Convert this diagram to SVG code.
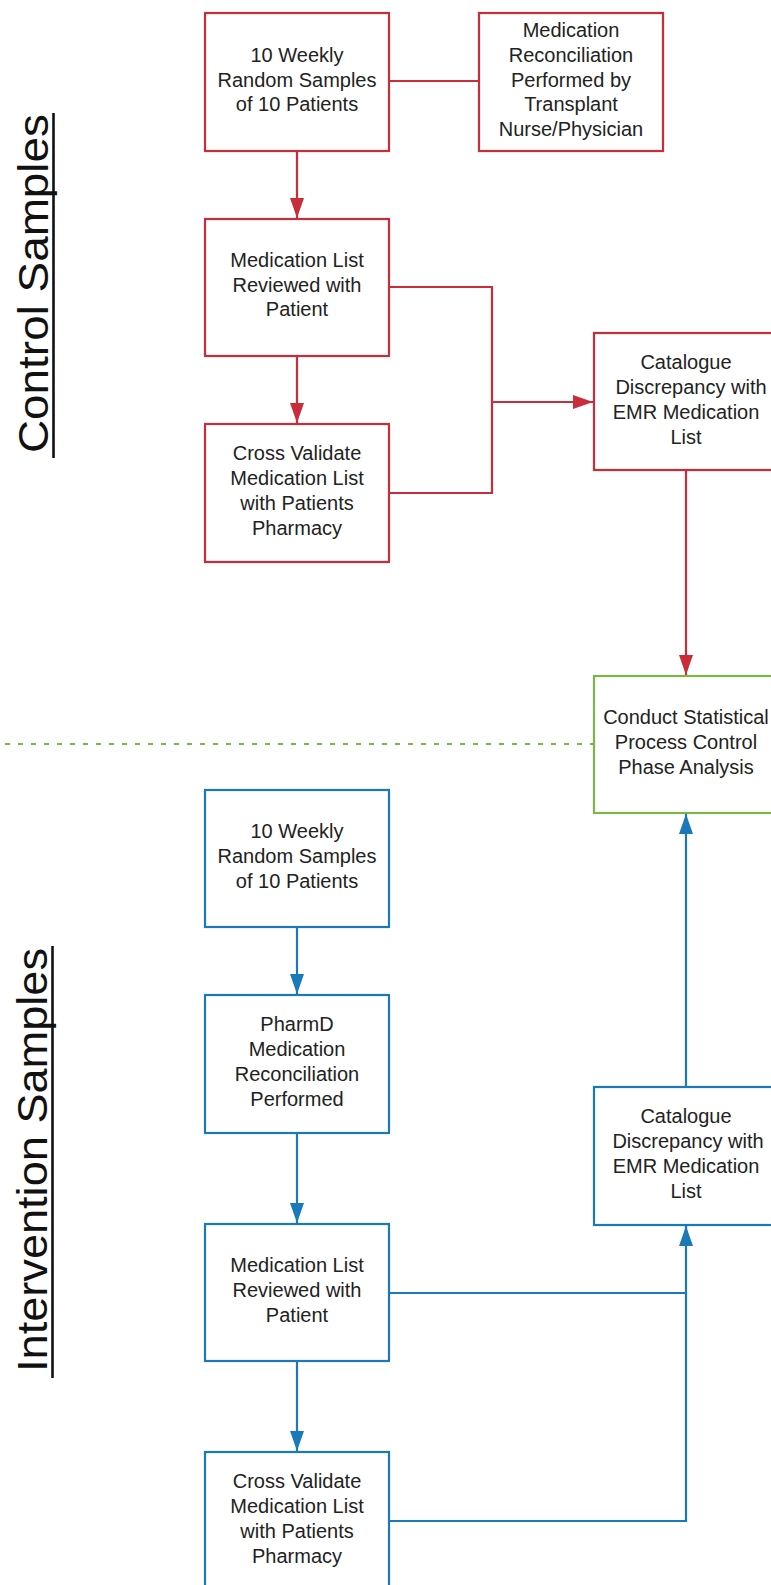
<svg xmlns="http://www.w3.org/2000/svg" width="771" height="1585" viewBox="0 0 771 1585">
<defs>
<style>
.bg{fill:#ffffff}
.box{fill:#ffffff;stroke-width:2.2}
.red{stroke:#c92d39}
.blue{stroke:#1a7ab9}
.green{stroke:#7ab648}
.t{font-family:"Liberation Sans",Arial,sans-serif;font-size:20px;fill:#222222;text-anchor:middle}
.title{font-family:"Liberation Sans",Arial,sans-serif;font-size:43px;fill:#111111;text-anchor:middle}
.ul{stroke:#111111;stroke-width:2.6}
.c{fill:none;stroke-width:2.2}
.dash{fill:none;stroke:#7ab648;stroke-width:2;stroke-dasharray:5 8}
</style>
<marker id="ar" viewBox="0 0 20 14" refX="20" refY="7" markerWidth="20" markerHeight="14" markerUnits="userSpaceOnUse" orient="auto">
<path d="M0,0 L20,7 L0,14 Z" fill="#c92d39"/>
</marker>
<marker id="ab" viewBox="0 0 20 14" refX="20" refY="7" markerWidth="20" markerHeight="14" markerUnits="userSpaceOnUse" orient="auto">
<path d="M0,0 L20,7 L0,14 Z" fill="#1a7ab9"/>
</marker>
</defs>
<rect class="bg" x="0" y="0" width="771" height="1585"/>

<g id="titles">
<text class="title" transform="translate(48,283.5) rotate(-90)" textLength="339" lengthAdjust="spacingAndGlyphs">Control Samples</text>
<line class="ul" x1="53.5" y1="113" x2="53.5" y2="458"/>
<text class="title" transform="translate(47,1160) rotate(-90)" textLength="424" lengthAdjust="spacingAndGlyphs">Intervention Samples</text>
<line class="ul" x1="52.5" y1="946" x2="52.5" y2="1378"/>
</g>

<g id="divider">
<line class="dash" x1="5" y1="744" x2="593" y2="744"/>
</g>

<g id="connectors">
<line class="c red" x1="389" y1="81" x2="479" y2="81"/>
<line class="c red" x1="297" y1="151" x2="297" y2="218" marker-end="url(#ar)"/>
<line class="c red" x1="297" y1="356" x2="297" y2="423" marker-end="url(#ar)"/>
<polyline class="c red" points="389,287 492,287 492,493 389,493"/>
<line class="c red" x1="492" y1="402" x2="593" y2="402" marker-end="url(#ar)"/>
<line class="c red" x1="686" y1="470" x2="686" y2="675" marker-end="url(#ar)"/>
<line class="c blue" x1="297" y1="927" x2="297" y2="994" marker-end="url(#ab)"/>
<line class="c blue" x1="297" y1="1133" x2="297" y2="1223" marker-end="url(#ab)"/>
<line class="c blue" x1="297" y1="1361" x2="297" y2="1451" marker-end="url(#ab)"/>
<line class="c blue" x1="389" y1="1293" x2="686" y2="1293"/>
<polyline class="c blue" points="389,1521 686,1521 686,1226"/>
<line class="c blue" x1="686" y1="1240" x2="686" y2="1226" marker-end="url(#ab)"/>
<line class="c blue" x1="686" y1="1087" x2="686" y2="814" marker-end="url(#ab)"/>
</g>

<g id="ctrl-sample">
<rect class="box red" x="205" y="13" width="184" height="138"/>
<text class="t"><tspan x="297" y="62">10 Weekly</tspan><tspan x="297" y="87">Random Samples</tspan><tspan x="297" y="111">of 10 Patients</tspan></text>
</g>
<g id="ctrl-medrec">
<rect class="box red" x="479" y="13" width="184" height="138"/>
<text class="t"><tspan x="571" y="37">Medication</tspan><tspan x="571" y="62">Reconciliation</tspan><tspan x="571" y="87">Performed by</tspan><tspan x="571" y="111">Transplant</tspan><tspan x="571" y="136">Nurse/Physician</tspan></text>
</g>
<g id="ctrl-review">
<rect class="box red" x="205" y="219" width="184" height="137"/>
<text class="t"><tspan x="297" y="267">Medication List</tspan><tspan x="297" y="292">Reviewed with</tspan><tspan x="297" y="316">Patient</tspan></text>
</g>
<g id="ctrl-cross">
<rect class="box red" x="205" y="424" width="184" height="138"/>
<text class="t"><tspan x="297" y="460">Cross Validate</tspan><tspan x="297" y="485">Medication List</tspan><tspan x="297" y="510">with Patients</tspan><tspan x="297" y="535">Pharmacy</tspan></text>
</g>
<g id="ctrl-catalogue">
<rect class="box red" x="594" y="333" width="184" height="137"/>
<text class="t"><tspan x="686" y="369">Catalogue</tspan><tspan x="691" y="394">Discrepancy with</tspan><tspan x="686" y="419">EMR Medication</tspan><tspan x="686" y="444">List</tspan></text>
</g>
<g id="spc-analysis">
<rect class="box green" x="594" y="676" width="184" height="137"/>
<text class="t"><tspan x="686" y="724">Conduct Statistical</tspan><tspan x="686" y="749">Process Control</tspan><tspan x="686" y="774">Phase Analysis</tspan></text>
</g>
<g id="int-sample">
<rect class="box blue" x="205" y="790" width="184" height="137"/>
<text class="t"><tspan x="297" y="838">10 Weekly</tspan><tspan x="297" y="863">Random Samples</tspan><tspan x="297" y="888">of 10 Patients</tspan></text>
</g>
<g id="int-pharmd">
<rect class="box blue" x="205" y="995" width="184" height="138"/>
<text class="t"><tspan x="297" y="1031">PharmD</tspan><tspan x="297" y="1056">Medication</tspan><tspan x="297" y="1081">Reconciliation</tspan><tspan x="297" y="1106">Performed</tspan></text>
</g>
<g id="int-review">
<rect class="box blue" x="205" y="1224" width="184" height="137"/>
<text class="t"><tspan x="297" y="1272">Medication List</tspan><tspan x="297" y="1297">Reviewed with</tspan><tspan x="297" y="1322">Patient</tspan></text>
</g>
<g id="int-cross">
<rect class="box blue" x="205" y="1452" width="184" height="140"/>
<text class="t"><tspan x="297" y="1488">Cross Validate</tspan><tspan x="297" y="1513">Medication List</tspan><tspan x="297" y="1538">with Patients</tspan><tspan x="297" y="1563">Pharmacy</tspan></text>
</g>
<g id="int-catalogue">
<rect class="box blue" x="594" y="1087" width="184" height="138"/>
<text class="t"><tspan x="686" y="1123">Catalogue</tspan><tspan x="688" y="1148">Discrepancy with</tspan><tspan x="686" y="1173">EMR Medication</tspan><tspan x="686" y="1198">List</tspan></text>
</g>
</svg>
